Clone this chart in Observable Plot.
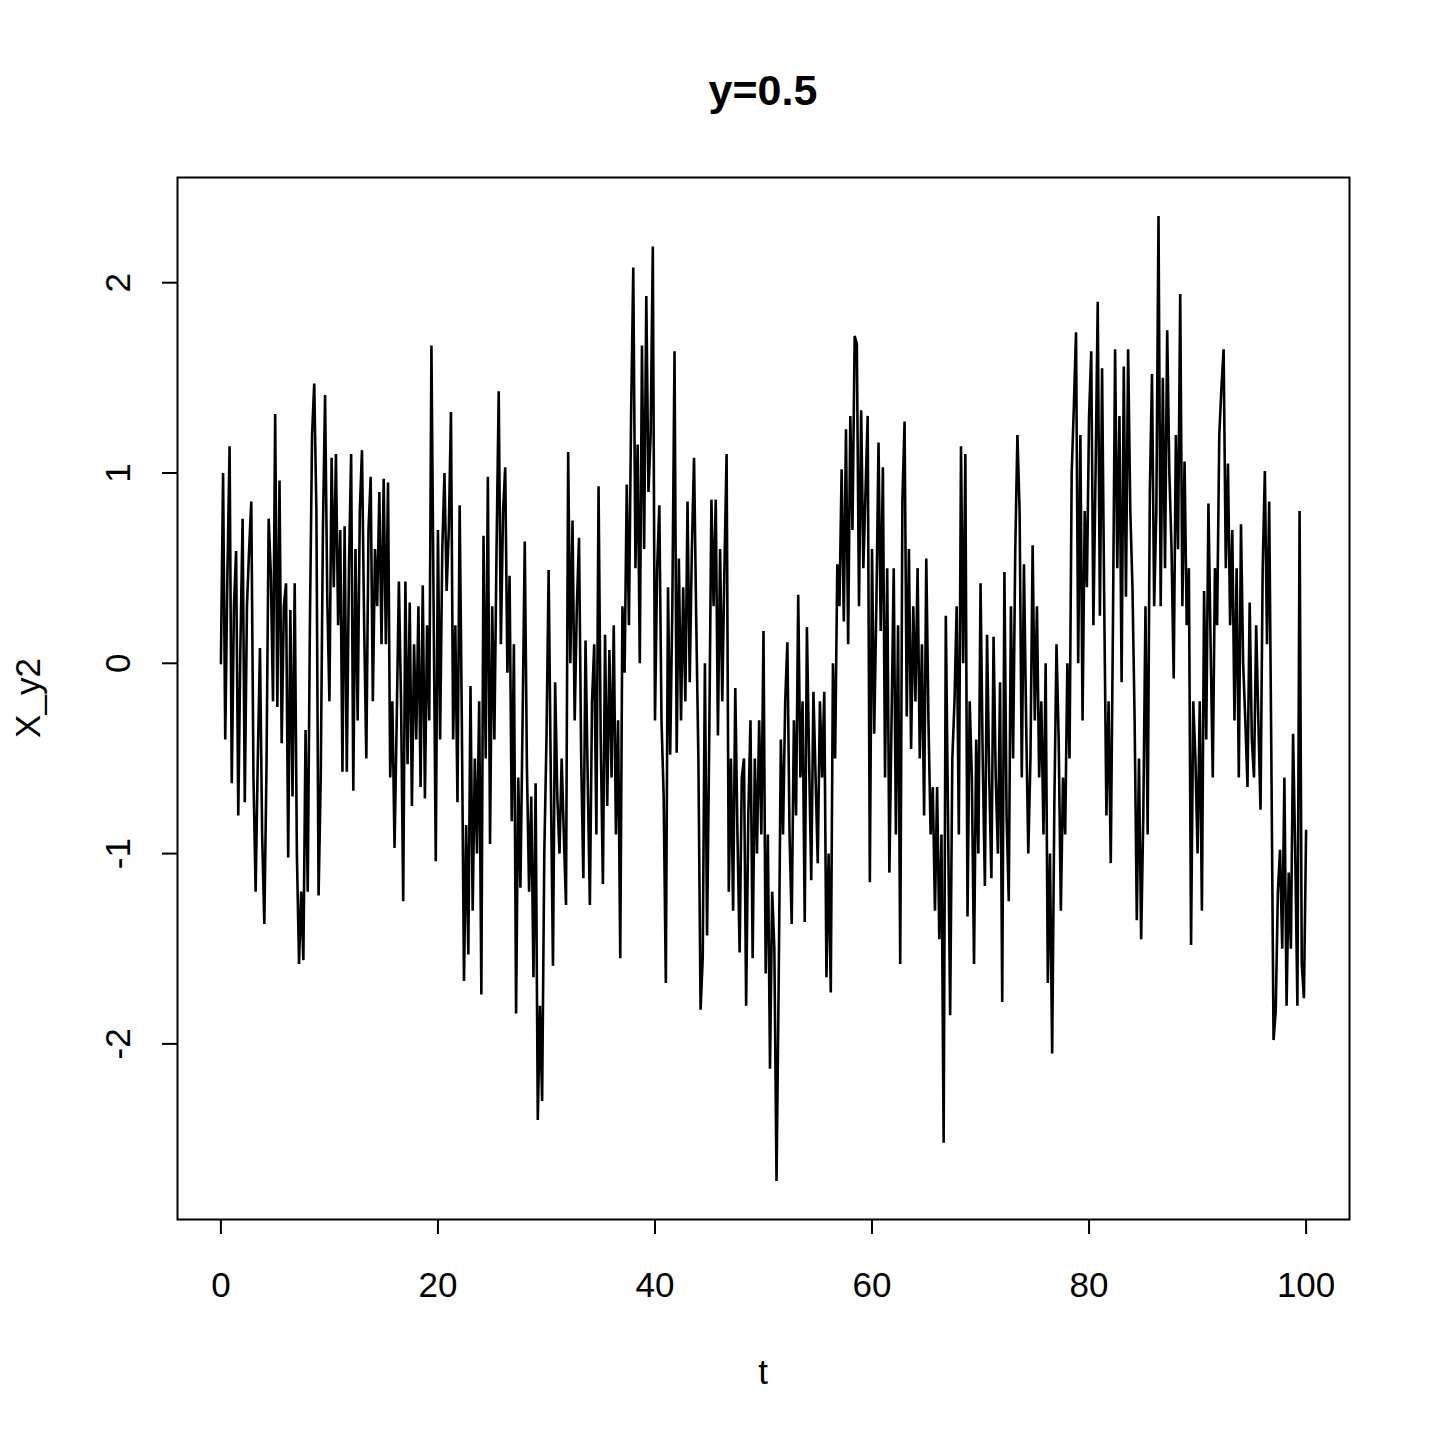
<!DOCTYPE html>
<html><head><meta charset="utf-8">
<script src="https://cdn.jsdelivr.net/npm/d3@7"></script>
<script src="https://cdn.jsdelivr.net/npm/@observablehq/plot@0.6"></script>
<style>
body{margin:0;background:#fff;font-family:"Liberation Sans",Arial,sans-serif;}
#title{width:1440px;height:130px;box-sizing:border-box;padding-top:69px;padding-left:86px;line-height:43px;font-size:43px;font-weight:bold;text-align:center;color:#000;}
</style></head><body>
<div id="title"></div><div id="chart"></div>
<script>
const title = "y=0.5";
const xLabel = "t";
const yLabel = "X_y2";
const tStep = 0.2;
const values = [
0, 1.0, -0.4, 0.47, 1.14,
-0.63, 0.3, 0.59, -0.8, 0.1,
0.76, -0.73, 0.3, 0.6, 0.85,
-0.6, -1.2, -0.5, 0.08, -0.9,
-1.37, -0.55, 0.76, 0.47, -0.2,
1.31, -0.23, 0.96, -0.42, 0.3,
0.42, -1.02, 0.28, -0.7, 0.42,
-1.0, -1.58, -1.2, -1.56, -0.35,
-1.2, 0.2, 1.2, 1.47, 0.8,
-1.22, -0.6, 0.7, 1.41, 0.35,
-0.2, 1.08, 0.4, 1.1, 0.2,
0.7, -0.57, 0.72, -0.57, 0.5,
1.1, -0.67, 0.6, -0.3, 0.8,
1.12, 0.2, -0.5, 0.7, 0.98,
-0.2, 0.6, 0.3, 0.9, 0.1,
0.97, 0.1, 0.95, -0.6, -0.2,
-0.97, -0.3, 0.43, -0.2, -1.25,
0.43, -0.53, 0.32, -0.75, 0.1,
-0.4, 0.3, -0.65, 0.41, -0.71,
0.2, -0.3, 1.67, 0.3, -1.04,
0.7, -0.4, 0.6, 1.0, 0.38,
0.7, 1.32, -0.4, 0.2, -0.73,
0.83, -0.3, -1.67, -0.85, -1.53,
-0.12, -1.3, -0.5, -1.0, -0.2,
-1.74, 0.67, -0.5, 0.98, -0.95,
0.3, -0.4, 0.6, 1.43, 0.1,
0.8, 1.03, -0.05, 0.46, -0.83,
0.1, -1.84, -0.6, -1.18, -0.3,
0.64, -0.55, -1.2, -0.7, -1.65,
-0.63, -2.4, -1.8, -2.3, -1.0,
-0.4, 0.49, -0.6, -1.59, -0.1,
-0.7, -1.0, -0.5, -0.9, -1.27,
1.11, 0.0, 0.75, -0.3, 0.3,
0.66, -0.5, -1.13, 0.12, -0.6,
-1.27, -0.2, 0.1, -0.9, 0.93,
-0.4, -1.16, 0.15, -0.75, 0.07,
-0.6, 0.2, -0.9, -0.3, -1.55,
0.3, -0.05, 0.94, 0.2, 1.31,
2.08, 0.5, 1.15, 0.0, 1.67,
0.6, 1.93, 0.9, 1.2, 2.19,
-0.3, 0.5, 0.83, -0.3, -0.7,
-1.68, 0.4, -0.48, 0.3, 1.64,
-0.47, 0.55, -0.3, 0.4, -0.2,
0.85, -0.1, 0.6, 1.08, 0.23,
-0.5, -1.82, -1.55, 0.0, -1.43,
-0.4, 0.86, 0.3, 0.86, -0.38,
0.6, -0.2, 0.5, 1.1, -1.2,
-0.5, -1.3, -0.13, -0.9, -1.52,
-0.6, -0.5, -1.8, -0.8, -0.3,
-1.55, -0.5, -1.0, -0.3, -0.9,
0.17, -1.63, -0.9, -2.13, -1.2,
-1.5, -2.72, -1.67, -0.4, -0.9,
-0.2, 0.11, -0.9, -1.37, -0.3,
-0.8, 0.36, -0.6, -0.2, -1.36,
0.19, -0.5, -1.14, -0.15, -0.6,
-1.05, -0.2, -0.6, -0.15, -1.65,
-1.0, -1.73, 0.0, -0.5, 0.52,
0.3, 1.02, 0.22, 1.23, 0.1,
1.3, 0.7, 1.72, 1.68, 0.3,
1.33, 0.5, 0.9, 1.3, -1.15,
0.6, -0.37, 0.3, 1.16, 0.17,
1.03, -0.6, 0.5, -1.1, -0.3,
0.5, -0.9, 0.2, -1.58, 0.86,
1.27, -0.28, 0.6, -0.45, 0.3,
-0.2, 0.5, -0.5, 0.1, -0.8,
0.55, -0.3, -0.9, -0.65, -1.3,
-0.65, -1.45, -0.9, -2.52, 0.25,
-0.8, -1.85, -0.5, -0.2, 0.3,
-0.9, 1.14, 0.0, 1.1, -1.33,
-0.2, -0.6, -1.58, -0.4, -1.0,
0.42, -0.5, -1.17, 0.15, -0.6,
-1.13, 0.14, -0.6, -1.0, -0.1,
-1.78, 0.48, -0.8, -1.25, 0.3,
-0.5, 0.6, 1.2, 0.8, -0.6,
0.52, -0.3, -1.0, -0.5, 0.62,
-0.3, 0.3, -0.6, -0.2, -0.9,
0.0, -1.68, -1.0, -2.05, -0.75,
0.1, -0.4, -1.3, -0.6, -0.9,
0.0, -0.5, 1.0, 1.35, 1.74,
0.0, 1.2, -0.3, 0.8, 0.4,
1.3, 1.64, 0.2, 1.0, 1.9,
0.25, 1.55, 0.3, -0.8, -0.2,
-1.05, 0.2, 1.65, 0.5, 1.3,
-0.1, 1.56, 0.35, 1.65, 0.8,
0.4, -0.3, -1.35, -0.5, -1.45,
-0.8, 0.3, -0.9, 0.9, 1.52,
0.3, 0.8, 2.35, 0.3, 1.5,
0.5, 1.75, 1.0, 0.6, -0.08,
1.2, 0.6, 1.94, 0.3, 1.06,
0.2, 0.5, -1.48, -0.2, -0.5,
-1.0, -0.2, -1.3, 0.38, -0.4,
0.84, 0.1, -0.6, 0.5, 0.2,
1.2, 1.45, 1.65, 0.5, 1.05,
0.2, 0.7, -0.3, 0.5, -0.6,
0.73, 0.0, -0.3, -0.65, 0.32,
-0.4, -0.6, 0.2, -0.3, -0.77,
0.5, 1.01, 0.1, 0.85, -0.5,
-1.98, -1.83, -1.2, -0.98, -1.5,
-0.6, -1.8, -1.1, -1.5, -0.37,
-1.0, -1.8, 0.8, -1.58, -1.76,
-0.88
];
const xTicks = [0, 20, 40, 60, 80, 100];
const yTicks = [-2, -1, 0, 1, 2];

const data = values.map((v, i) => ({t: Math.round(i * tStep * 10) / 10, v}));
const ext = (lo, hi) => { const d = (hi - lo) * 0.04; return [lo - d, hi + d]; };
const xDom = ext(d3.min(data, d => d.t), d3.max(data, d => d.t));
const yDom = ext(d3.min(values), d3.max(values));

document.getElementById("title").textContent = title;

const W = 1440, H = 1310;
const mL = 177, mR = 91, mT = 47, mB = 221;
const font = "Liberation Sans, Arial, sans-serif";

const plot = Plot.plot({
  width: W, height: H,
  marginLeft: mL, marginRight: mR, marginTop: mT, marginBottom: mB,
  style: {fontFamily: font, fontSize: "34px", background: "white", color: "black", overflow: "visible"},
  x: {domain: xDom},
  y: {domain: yDom},
  marks: [
    Plot.line(data, {x: "t", y: "v", stroke: "black", strokeWidth: 2.6, strokeLinejoin: "miter", strokeMiterlimit: 3}),
    Plot.frame({stroke: "black", strokeWidth: 2}),
    Plot.axisX({ticks: xTicks, tickFormat: d => String(d), tickSize: 15, tickPadding: 38, fontSize: 35, label: null, stroke: "black", strokeWidth: 2}),
    Plot.axisY({ticks: yTicks, tickFormat: d => String(d), tickSize: 15, tickPadding: 33, tickRotate: -90, fontSize: 35, label: null, stroke: "black", strokeWidth: 2})
  ]
});
document.getElementById("chart").appendChild(plot);

const svg = d3.select(plot);
svg.append("text").attr("x", (mL + (W - mR)) / 2).attr("y", 1372 - 130)
  .attr("dy", "0.35em").attr("text-anchor", "middle")
  .attr("font-family", font).attr("font-size", 35).attr("fill", "black").text(xLabel);
svg.append("text").attr("transform", `translate(28,${(mT + (H - mB)) / 2}) rotate(-90)`)
  .attr("dy", "0.35em").attr("text-anchor", "middle")
  .attr("font-family", font).attr("font-size", 35).attr("fill", "black").text(yLabel);
</script>
</body></html>
